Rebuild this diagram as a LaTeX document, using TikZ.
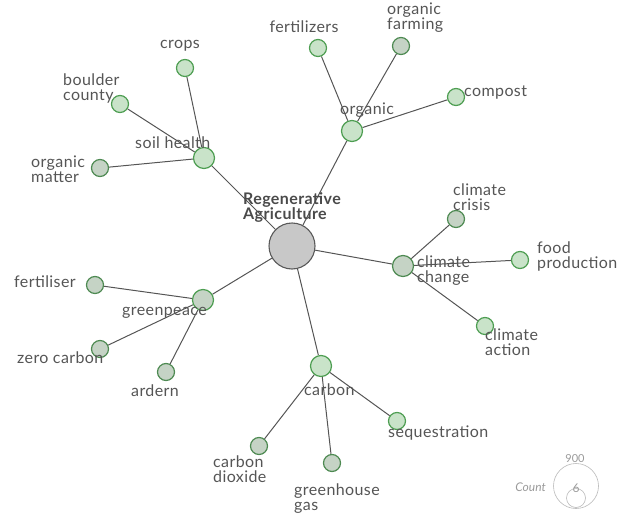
\documentclass[tikz,border=0pt]{standalone}
\usepackage{fontspec}
\setmainfont{Lato}
\newfontfamily\labelfont[LetterSpace=2.5]{Lato}
\usetikzlibrary{backgrounds}

\definecolor{labelgray}{HTML}{555555}
\definecolor{titlegray}{HTML}{4A4A4A}
\definecolor{linkgray}{HTML}{555555}
\definecolor{hubfill}{HTML}{C8C8C8}
\definecolor{hubline}{HTML}{5A5A5A}
\definecolor{leafgreen}{HTML}{C9E3C9}
\definecolor{leafline}{HTML}{4E9E52}
\definecolor{sagefill}{HTML}{C5D3C5}
\definecolor{sageline}{HTML}{4E8A52}
\definecolor{legendgray}{HTML}{9A9A9A}

\tikzset{
  hub/.style={circle, draw=hubline, fill=hubfill, line width=1.1pt,
              minimum size=46pt, inner sep=0pt},
  topic/.style={circle, draw=leafline, fill=leafgreen, line width=1.2pt,
                minimum size=21pt, inner sep=0pt},
  leaf/.style={circle, draw=leafline, fill=leafgreen, line width=1.2pt,
               minimum size=17pt, inner sep=0pt},
  sage/.style={fill=sagefill, draw=sageline},
  lbl/.style={font=\labelfont\fontsize{16}{14}\selectfont, text=labelgray, inner sep=0pt},
  hublbl/.style={font=\labelfont\fontsize{16}{14}\selectfont\bfseries, text=titlegray, inner sep=0pt},
  link/.style={draw=linkgray, line width=1pt},
  legendtxt/.style={text=legendgray, inner sep=0pt},
  legendring/.style={circle, draw=legendgray!70, line width=0.6pt, inner sep=0pt}
}

\begin{document}
\begin{tikzpicture}[x=1pt, y=-1pt]
  \useasboundingbox (0,0) rectangle (624,514);

  % --- circles ---------------------------------------------------------
  \node[hub] (regen) at (292,246) {};

  \node[topic] (soil) at (204,158) {};
  \node[leaf] (crops) at (185,68) {};
  \node[leaf] (boulder) at (120,104) {};
  \node[leaf, sage] (omatter) at (100,168) {};

  \node[topic] (organic) at (352,131) {};
  \node[leaf] (fertilizers) at (318,48) {};
  \node[leaf, sage] (ofarming) at (401,46) {};
  \node[leaf] (compost) at (456,97) {};

  \node[topic, sage] (cchange) at (403,266) {};
  \node[leaf, sage] (ccrisis) at (456,219) {};
  \node[leaf] (food) at (520,260) {};
  \node[leaf] (caction) at (485,326) {};

  \node[topic, sage, draw=leafline] (greenpeace) at (203,300) {};
  \node[leaf, sage] (fertiliser) at (95,285) {};
  \node[leaf, sage] (zerocarbon) at (100,349) {};
  \node[leaf, sage] (ardern) at (166,372) {};

  \node[topic] (carbon) at (321,366) {};
  \node[leaf, sage] (dioxide) at (259,446) {};
  \node[leaf, sage] (greenhouse) at (332,463) {};
  \node[leaf] (sequestration) at (397,421) {};

  % --- links -----------------------------------------------------------
  \begin{scope}[on background layer]
    \draw[link] (regen) -- (soil);
    \draw[link] (regen) -- (organic);
    \draw[link] (regen) -- (cchange);
    \draw[link] (regen) -- (greenpeace);
    \draw[link] (regen) -- (carbon);

    \draw[link] (soil) -- (crops);
    \draw[link] (soil) -- (boulder);
    \draw[link] (soil) -- (omatter);

    \draw[link] (organic) -- (fertilizers);
    \draw[link] (organic) -- (ofarming);
    \draw[link] (organic) -- (compost);

    \draw[link] (cchange) -- (ccrisis);
    \draw[link] (cchange) -- (food);
    \draw[link] (cchange) -- (caction);

    \draw[link] (greenpeace) -- (fertiliser);
    \draw[link] (greenpeace) -- (zerocarbon);
    \draw[link] (greenpeace) -- (ardern);

    \draw[link] (carbon) -- (dioxide);
    \draw[link] (carbon) -- (greenhouse);
    \draw[link] (carbon) -- (sequestration);
  \end{scope}

  % --- labels ----------------------------------------------------------
  \node[hublbl, anchor=base west] (t-regen1) at (243,204) {Regenerative};
  \node[hublbl, anchor=base west] (t-regen2) at (243,219) {Agriculture};

  \node[lbl, anchor=base west] (t-soil) at (135,148) {soil health};
  \node[lbl, anchor=base] (t-crops) at (180,48) {crops};
  \node[lbl, anchor=base west] (t-boulder1) at (63,85) {boulder};
  \node[lbl, anchor=base west] (t-boulder2) at (63,100) {county};
  \node[lbl, anchor=base west] (t-omatter1) at (31,167) {organic};
  \node[lbl, anchor=base west] (t-omatter2) at (31,182) {matter};

  \node[lbl, anchor=base west] (t-organic) at (340,114) {organic};
  \node[lbl, anchor=base] (t-fertilizers) at (304,32) {fertilizers};
  \node[lbl, anchor=base west] (t-ofarming1) at (387,14) {organic};
  \node[lbl, anchor=base west] (t-ofarming2) at (387,29) {farming};
  \node[lbl, anchor=base west] (t-compost) at (464,96) {compost};

  \node[lbl, anchor=base west] (t-cchange1) at (417,267) {climate};
  \node[lbl, anchor=base west] (t-cchange2) at (417,282) {change};
  \node[lbl, anchor=base west] (t-ccrisis1) at (453,195) {climate};
  \node[lbl, anchor=base west] (t-ccrisis2) at (453,210) {crisis};
  \node[lbl, anchor=base west] (t-food1) at (537,253) {food};
  \node[lbl, anchor=base west] (t-food2) at (537,268) {production};
  \node[lbl, anchor=base west] (t-caction1) at (485,340) {climate};
  \node[lbl, anchor=base west] (t-caction2) at (485,355) {action};

  \node[lbl, anchor=base west] (t-greenpeace) at (122,315) {greenpeace};
  \node[lbl, anchor=base west] (t-fertiliser) at (14,287) {fertiliser};
  \node[lbl, anchor=base west] (t-zerocarbon) at (17,363) {zero carbon};
  \node[lbl, anchor=base west] (t-ardern) at (131,396) {ardern};

  \node[lbl, anchor=base west] (t-carbon) at (304,395) {carbon};
  \node[lbl, anchor=base west] (t-dioxide1) at (213,467) {carbon};
  \node[lbl, anchor=base west] (t-dioxide2) at (213,482) {dioxide};
  \node[lbl, anchor=base west] (t-greenhouse1) at (294,495) {greenhouse};
  \node[lbl, anchor=base west] (t-greenhouse2) at (294,510) {gas};
  \node[lbl, anchor=base west] (t-seq) at (388,437) {sequestration};

  % --- size legend -----------------------------------------------------
  \node[legendring, minimum size=45pt] (ring-max) at (576,486) {};
  \node[legendring, minimum size=19pt] (ring-min) at (576,498) {};
  \node[legendtxt, anchor=base, font=\fontsize{11}{11}\selectfont] (t-max) at (575,462) {900};
  \node[legendtxt, anchor=base, font=\fontsize{12}{12}\selectfont] (t-min) at (576,492) {6};
  \node[legendtxt, anchor=base east, font=\fontsize{12}{12}\selectfont\itshape] (t-count) at (546,491) {Count};
\end{tikzpicture}
\end{document}
